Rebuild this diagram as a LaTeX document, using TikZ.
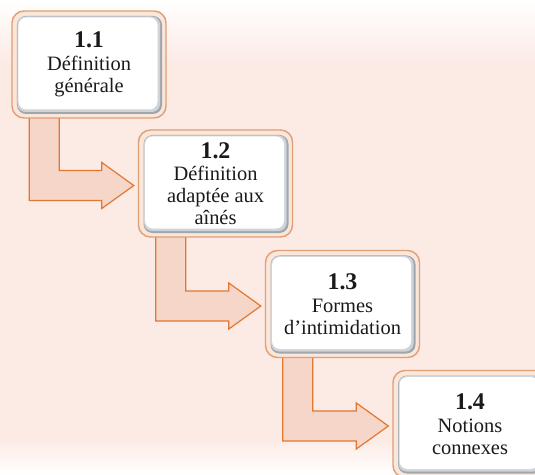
\documentclass[tikz,border=0pt]{standalone}
\usepackage{fontspec}
\setmainfont{Liberation Serif}
\usetikzlibrary{calc}
\definecolor{bgpink}{HTML}{FCEAE5}
\definecolor{arrfill}{HTML}{F7D6CA}
\definecolor{arredge}{HTML}{E2782F}
\definecolor{boxfill}{HTML}{FBE6DA}
\definecolor{boxedge}{HTML}{DF9F77}
\definecolor{shadowgrey}{HTML}{9EA6AE}
\definecolor{softgrey}{HTML}{CFD4D8}
\definecolor{textcol}{HTML}{1A1A1A}
\pgfdeclarelayer{bg}
\pgfsetlayers{bg,main}
\newcommand\bentarrow[2]{%
  \draw[arr] let \p1=(#1.south west), \p2=($(#2.west)+(-4,2)$) in
    (\x1+18bp,\y1+6bp) -- (\x1+18bp,\y2-15bp) -- (\x2-32bp,\y2-15bp) --
    (\x2-32bp,\y2-23bp) -- (\x2,\y2) -- (\x2-32bp,\y2+23bp) --
    (\x2-32bp,\y2+15bp) -- (\x1+48bp,\y2+15bp) -- (\x1+48bp,\y1+6bp) -- cycle;}
\newcommand\numtxt[1]{\textbf{\fontsize{24}{24}\selectfont #1}}
\begin{document}
\begin{tikzpicture}[x=1bp,y=-1bp,
  box/.style={rounded corners=12bp, draw=boxedge, line width=1.4bp, fill=boxfill,
    minimum width=154bp, minimum height=107bp, inner sep=0pt, align=center,
    text=textcol, font=\fontsize{20.5}{22}\selectfont,
    path picture={
      \fill[shadowgrey, rounded corners=9bp]
        ($(path picture bounding box.south west)+(5,-4)$) rectangle
        ($(path picture bounding box.north east)+(-4,5)$);
      \fill[softgrey, rounded corners=8bp]
        ($(path picture bounding box.south west)+(5.5,-6)$) rectangle
        ($(path picture bounding box.north east)+(-6,5.5)$);
      \fill[white, rounded corners=8bp]
        ($(path picture bounding box.south west)+(6.5,-8.5)$) rectangle
        ($(path picture bounding box.north east)+(-8.5,6.5)$);
    }},
  arr/.style={fill=arrfill, draw=arredge, line width=1.2bp, line join=miter}
]
\useasboundingbox (0,0) rectangle (535,475);
\begin{pgfonlayer}{bg}
  \fill[bgpink] (0,0) rectangle (535,475);
  \shade[top color=white, bottom color=bgpink] (0,0) rectangle (535,62);
  \shade[top color=bgpink, bottom color=white] (0,438) rectangle (535,475);
\end{pgfonlayer}

\node[box] (b1) at (89,64.5) {\numtxt{1.1}\\[1bp]Définition\\générale};
\node[box] (b2) at (215.5,183.5) {\numtxt{1.2}\\Définition\\adaptée aux\\aînés};
\node[box] (b3) at (342.5,304) {\numtxt{1.3}\\[1bp]Formes\\d’intimidation};
\node[box] (b4) at (470,424) {\numtxt{1.4}\\[1bp]Notions\\connexes};

\begin{pgfonlayer}{bg}
  \bentarrow{b1}{b2}
  \bentarrow{b2}{b3}
  \bentarrow{b3}{b4}
\end{pgfonlayer}
\end{tikzpicture}
\end{document}
